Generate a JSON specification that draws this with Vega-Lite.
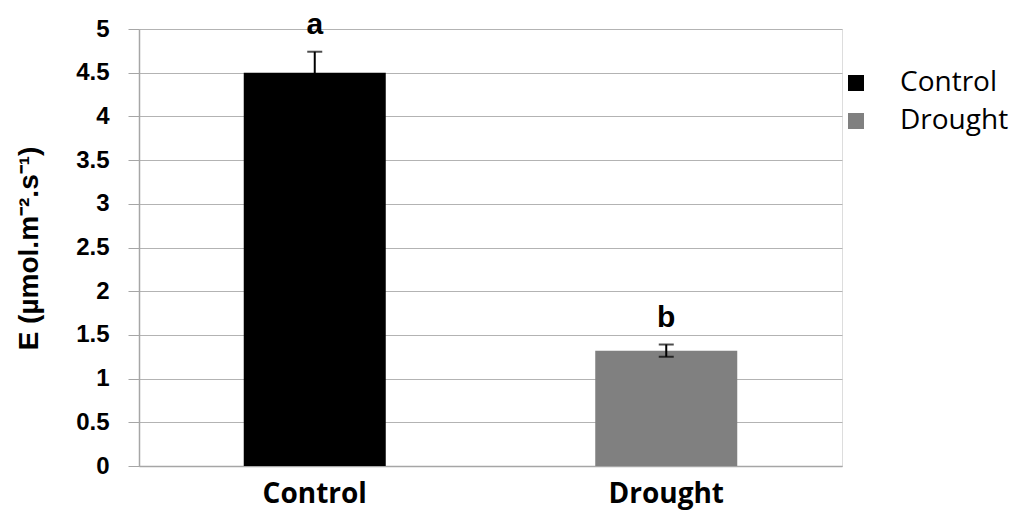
{
  "$schema": "https://vega.github.io/schema/vega-lite/v6.json",
  "autosize": {"type": "none"},
  "padding": {"left": 139, "top": 29, "right": 182, "bottom": 58},
  "width": 703,
  "height": 437,
  "background": "white",
  "data": {
    "values": [
      {"treatment": "Control", "E": 4.5, "err": 0.24, "letter": "a"},
      {"treatment": "Drought", "E": 1.32, "err": 0.07, "letter": "b"}
    ]
  },
  "transform": [
    {"calculate": "datum.E - datum.err", "as": "lo"},
    {"calculate": "datum.E + datum.err", "as": "hi"}
  ],
  "encoding": {
    "x": {
      "field": "treatment",
      "type": "nominal",
      "sort": ["Control", "Drought"],
      "scale": {"paddingInner": 0.596, "paddingOuter": 0.298},
      "axis": {
        "title": null,
        "labelAngle": 0,
        "labelFont": "Open Sans",
        "labelFontWeight": "bold",
        "labelFontSize": 28,
        "labelColor": "black",
        "labelPadding": 14,
        "ticks": false,
        "domainColor": "#a6a6a6",
        "domainWidth": 1.5
      }
    }
  },
  "layer": [
    {
      "mark": {"type": "bar"},
      "encoding": {
        "y": {
          "field": "E",
          "type": "quantitative",
          "scale": {"domain": [0, 5], "nice": false},
          "axis": {
            "title": "E (µmol.m⁻².s⁻¹)",
            "titleFont": "Liberation Sans",
            "titleFontWeight": "bold",
            "titleFontSize": 28,
            "titleColor": "black",
            "titleX": -110,
            "titleY": 219,
            "titleBaseline": "middle",
            "titleAngle": -90,
            "values": [0, 0.5, 1, 1.5, 2, 2.5, 3, 3.5, 4, 4.5, 5],
            "format": "~g",
            "labelFont": "Liberation Sans",
            "labelFontWeight": "bold",
            "labelFontSize": 24,
            "labelColor": "black",
            "labelPadding": 19,
            "tickSize": 11,
            "tickColor": "#a6a6a6",
            "domainColor": "#a6a6a6",
            "domainWidth": 1.5,
            "grid": true,
            "gridColor": "#b3b3b3",
            "gridWidth": 1.2
          }
        },
        "color": {
          "field": "treatment",
          "type": "nominal",
          "scale": {"domain": ["Control", "Drought"], "range": ["#000000", "#808080"]},
          "legend": {
            "title": null,
            "orient": "none",
            "legendX": 703,
            "legendY": 40,
            "symbolType": "square",
            "symbolSize": 256,
            "symbolStrokeWidth": 0,
            "labelFont": "Open Sans",
            "labelFontSize": 28,
            "labelColor": "black",
            "labelOffset": 30,
            "rowPadding": 10,
            "padding": 0
          }
        }
      }
    },
    {
      "mark": {"type": "rule", "color": "black", "strokeWidth": 2},
      "encoding": {
        "y": {"field": "lo", "type": "quantitative"},
        "y2": {"field": "hi"}
      }
    },
    {
      "mark": {"type": "tick", "color": "black", "size": 15, "thickness": 2},
      "encoding": {
        "y": {"field": "hi", "type": "quantitative"}
      }
    },
    {
      "mark": {"type": "tick", "color": "black", "size": 15, "thickness": 2},
      "encoding": {
        "y": {"field": "lo", "type": "quantitative"}
      }
    },
    {
      "mark": {"type": "text", "font": "Liberation Sans", "fontSize": 30, "fontWeight": "bold", "color": "black", "baseline": "alphabetic", "dy": -18},
      "encoding": {
        "y": {"field": "hi", "type": "quantitative"},
        "text": {"field": "letter"}
      }
    }
  ]
}
